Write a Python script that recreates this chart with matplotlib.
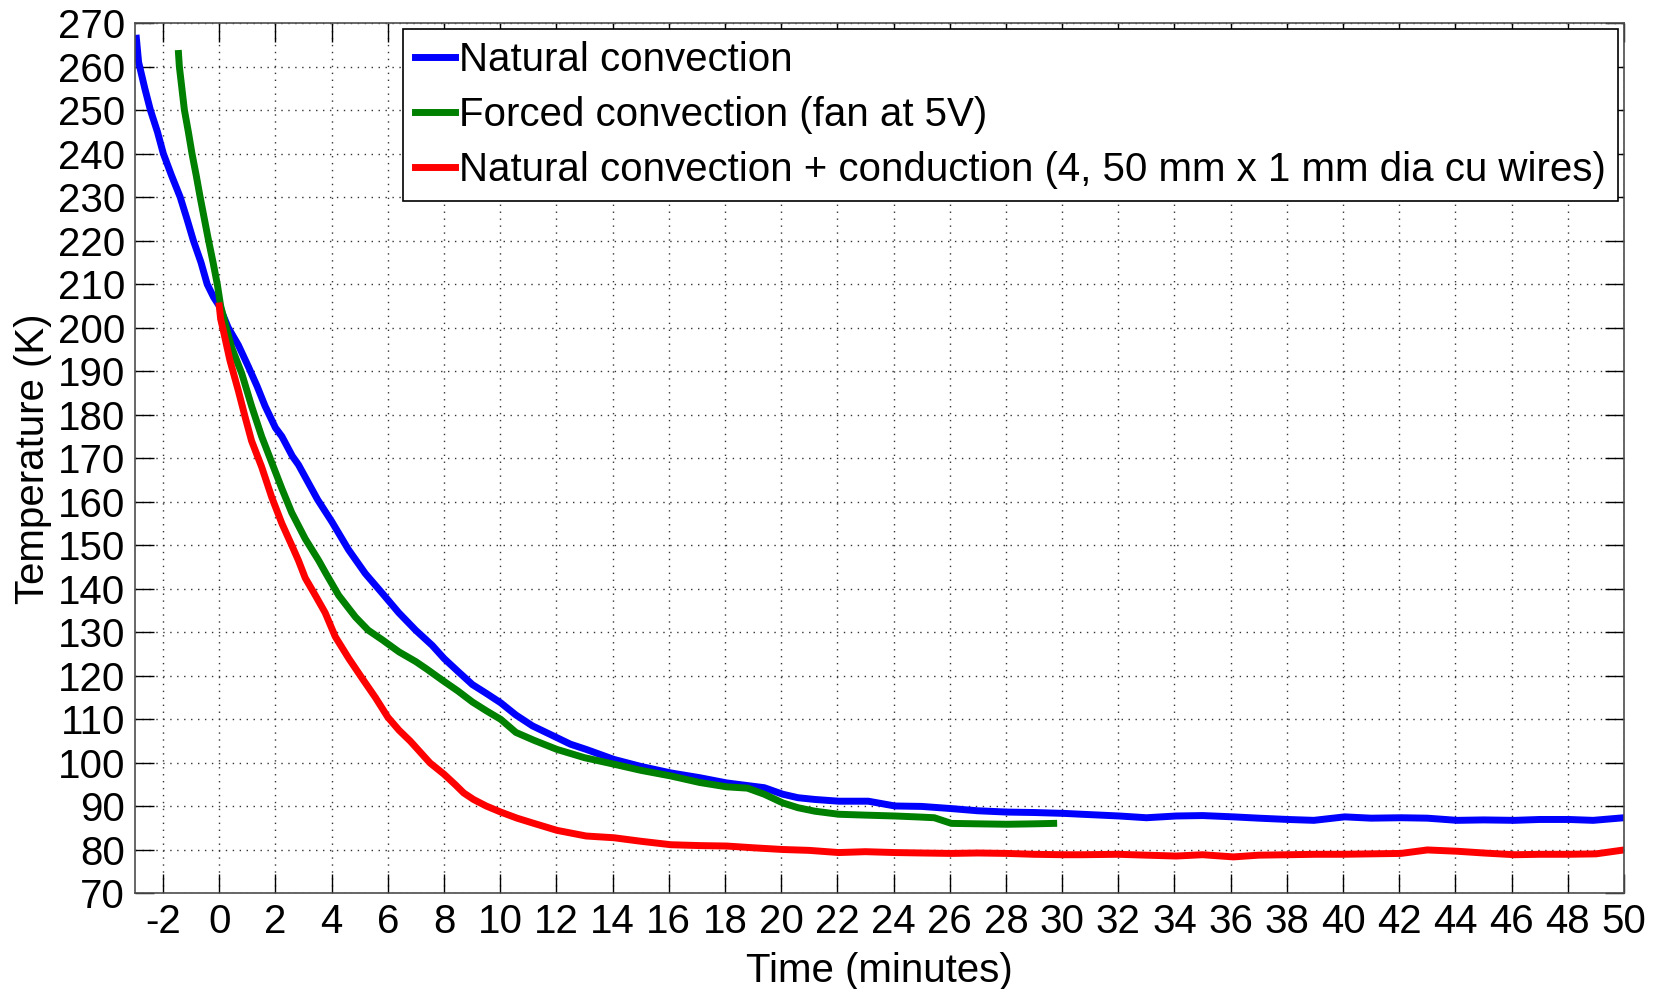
import matplotlib
matplotlib.use("Agg")
import matplotlib.pyplot as plt

plt.rcParams["font.family"] = ["Liberation Sans", "DejaVu Sans"]
plt.rcParams["axes.unicode_minus"] = False

# Natural convection (blue)
blue_t = [-2.95, -2.87, -2.65, -2.45, -2.2, -1.99, -1.7, -1.39, -1.15, -0.92,
          -0.65, -0.43, -0.2, 0.0, 0.32, 0.68, 1.04, 1.35, 1.63, 2.0,
          2.23, 2.6, 2.82, 3.5, 4.0, 4.6, 5.2, 5.8, 6.39, 6.99,
          7.58, 8.0, 8.5, 9.01, 9.5, 10.02, 10.56, 11.15, 12.02, 12.5,
          13.06, 14.05, 15.0, 16.07, 17.1, 18.06, 19.4, 20.06, 20.6, 21.2,
          22.05, 23.1, 24.05, 25.0, 26.06, 27.0, 28.04, 29.0, 30.06, 30.7,
          32.04, 33.0, 34.06, 35.0, 36.1, 37.0, 38.04, 38.96, 40.06, 41.0,
          42.06, 43.0, 44.06, 45.0, 46.1, 47.0, 48.04, 48.9, 50.0]
blue_T = [266.5, 261, 255, 250, 245, 240, 235, 230, 225, 220,
          215, 210, 207, 205, 200, 196, 191, 186.5, 182, 177,
          175, 170.5, 168.5, 160.5, 155.5, 149, 143.5, 139, 134.5, 130.5,
          127, 124, 121, 118, 116, 113.8, 111, 108.5, 105.8, 104.3,
          103.1, 100.8, 99.2, 97.7, 96.6, 95.4, 94.3, 92.8, 92.0, 91.6,
          91.2, 91.2, 90.1, 90.0, 89.5, 89.0, 88.7, 88.6, 88.4, 88.2,
          87.8, 87.4, 87.8, 87.9, 87.6, 87.3, 87.0, 86.8, 87.6, 87.3,
          87.4, 87.3, 86.8, 86.9, 86.8, 87.0, 87.0, 86.8, 87.4]

# Forced convection, fan at 5V (green)
green_t = [-1.45, -1.42, -1.33, -1.24, -1.1, -0.97, -0.82, -0.68, -0.53, -0.38,
           -0.22, -0.07, 0.05, 0.25, 0.44, 0.8, 1.15, 1.51, 1.87, 2.23,
           2.58, 3.06, 3.54, 3.8, 4.25, 4.85, 5.3, 5.8, 6.4, 6.99,
           7.4, 7.94, 8.5, 9.01, 9.5, 10.02, 10.56, 11.2, 12.02, 13.0,
           14.05, 15.0, 16.07, 17.1, 18.06, 18.8, 19.4, 20.06, 20.6, 21.2,
           22.05, 23.0, 24.05, 24.8, 25.45, 26.06, 27.0, 28.04, 29.0, 29.7]
green_T = [263, 260, 255, 250, 245, 240, 235, 230, 225, 220,
           215, 210, 205, 200, 195.5, 189.5, 182, 175, 169, 163,
           157.5, 151.5, 146.5, 143.5, 138.5, 133.5, 130.5, 128.3, 125.5, 123.3,
           121.5, 119, 116.5, 114, 112, 110, 107, 105.2, 103.1, 101.2,
           99.7, 98.3, 97.0, 95.5, 94.5, 94.2, 92.8, 90.8, 89.7, 88.9,
           88.2, 88.0, 87.8, 87.6, 87.4, 86.1, 86.0, 85.9, 86.0, 86.1]

# Natural convection + conduction (red)
red_t = [0.0, 0.05, 0.14, 0.38, 0.68, 0.92, 1.15, 1.51, 1.87, 2.23,
         2.58, 2.82, 3.06, 3.42, 3.77, 4.13, 4.61, 5.08, 5.56, 6.0,
         6.4, 6.8, 7.5, 8.0, 8.4, 8.7, 9.05, 9.5, 10.02, 10.6,
         11.15, 12.02, 13.06, 14.05, 15.0, 16.07, 17.1, 18.06, 19.0, 20.06,
         21.0, 22.05, 23.0, 24.05, 25.0, 26.06, 27.0, 28.04, 29.0, 30.06,
         30.7, 32.0, 33.0, 34.06, 35.0, 36.1, 37.0, 38.04, 39.0, 40.0,
         41.0, 42.06, 43.0, 44.06, 45.0, 46.1, 47.0, 48.04, 49.0, 50.0]
red_T = [205, 202, 199.5, 192.5, 185.5, 179.5, 174, 168, 161, 155,
         150, 146.5, 142.5, 138.5, 134.5, 129, 124, 119.5, 115, 110.5,
         107.5, 105, 100, 97.4, 95, 93.1, 91.6, 90.1, 88.7, 87.3,
         86.2, 84.5, 83.2, 82.8, 82.0, 81.2, 81.0, 80.9, 80.5, 80.1,
         79.9, 79.4, 79.6, 79.4, 79.3, 79.2, 79.3, 79.2, 79.0, 78.9,
         78.9, 79.0, 78.8, 78.6, 78.9, 78.4, 78.8, 78.9, 79.0, 79.0,
         79.1, 79.2, 80.0, 79.7, 79.3, 78.9, 79.0, 79.0, 79.1, 80.0]

labels = ["Natural convection",
          "Forced convection (fan at 5V)",
          "Natural convection + conduction (4, 50 mm x 1 mm dia cu wires)"]

x_ticks = list(range(-2, 51, 2))
y_ticks = list(range(70, 271, 10))

fig = plt.figure(figsize=(16.58, 9.89), dpi=100)
ax = fig.add_axes([0.0814, 0.0966, 0.8981, 0.8801])

lw = 5
ax.plot(blue_t, blue_T, color=(0, 0, 1), lw=lw, label=labels[0])
ax.plot(green_t, green_T, color=(0, 0.5, 0), lw=lw, label=labels[1])
ax.plot(red_t, red_T, color=(1, 0, 0), lw=lw, label=labels[2])

ax.set_xlim(-3, 50)
ax.set_ylim(70, 270)
ax.set_xticks(x_ticks)
ax.set_yticks(y_ticks)
ax.tick_params(direction="in", length=14, width=1, top=True, right=True,
               labelsize=29, pad=7, colors="black")
ax.grid(True, color="0.2", linestyle=(0, (1, 4)), linewidth=1)
for s in ax.spines.values():
    s.set_color("0.3")
    s.set_linewidth(1.2)

ax.set_xlabel("Time (minutes)", fontsize=29, labelpad=8)
ax.set_ylabel("Temperature (K)", fontsize=29, labelpad=4)

leg = ax.legend(loc="upper right", fontsize=29, handlelength=1.0,
                handletextpad=0.1, borderpad=0.3, labelspacing=0.42,
                borderaxespad=0.15, fancybox=False, framealpha=1)
leg.get_frame().set_edgecolor("black")
leg.get_frame().set_linewidth(1.2)

plt.savefig("out.png", dpi=100)
